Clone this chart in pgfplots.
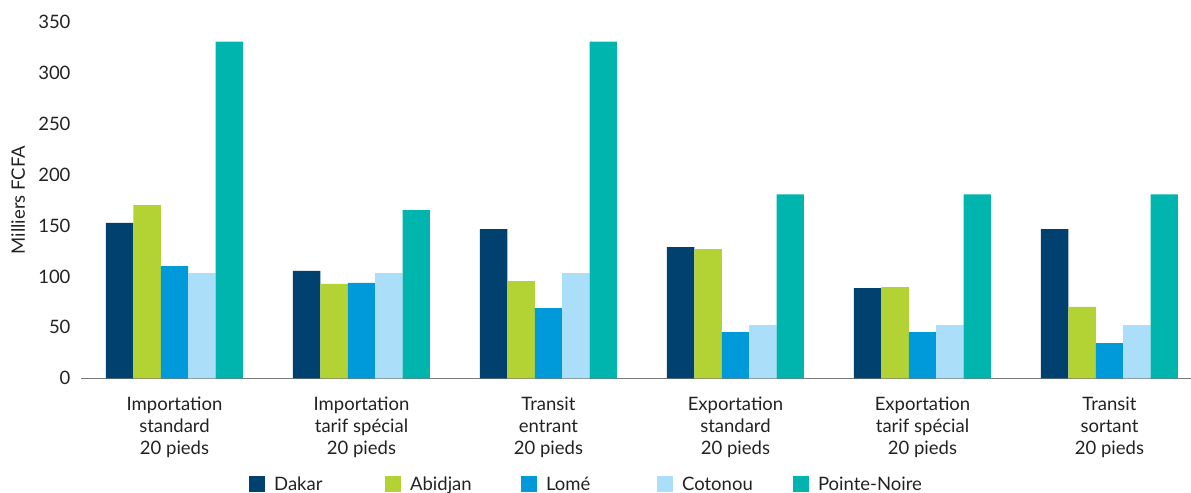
\documentclass[border=0pt]{standalone}
\usepackage{pgfplots}
\pgfplotsset{compat=1.18}
\usepackage{fontspec}
\setmainfont{Lato}
\definecolor{cDakar}{HTML}{00416F}
\definecolor{cAbidjan}{HTML}{B3D335}
\definecolor{cLome}{HTML}{009ADB}
\definecolor{cCotonou}{HTML}{ABDFF9}
\definecolor{cPN}{HTML}{00B5AE}
\definecolor{txt}{HTML}{222222}
\definecolor{axisgray}{HTML}{7A7A7A}
\pgfplotsset{sqlegend/.style={legend image code/.code={\fill[##1] (0bp,-8bp) rectangle (16bp,8bp);}}}
\begin{document}
\begin{tikzpicture}
\begin{axis}[
  name=ax,
  at={(0,0)}, anchor=south west,
  scale only axis,
  width=1122bp, height=356.6bp,
  ybar=0pt, bar width=27.4bp,
  xmin=-0.5, xmax=5.5,
  ymin=0, ymax=350,
  ytick={0,50,...,350},
  xtick={0,1,2,3,4,5},
  xticklabels={{Importation\\standard\\20 pieds},{Importation\\tarif spécial\\20 pieds},{Transit\\entrant\\20 pieds},{Exportation\\standard\\20 pieds},{Exportation\\tarif spécial\\20 pieds},{Transit\\sortant\\20 pieds}},
  axis lines*=left,
  y axis line style={draw=none},
  x axis line style={draw=axisgray, line width=1.6bp},
  tick style={draw=none},
  /pgf/number format/assume math mode=true,
  ticklabel style={font=\fontsize{18.5bp}{22bp}\selectfont, text=txt},
  yticklabel style={xshift=-7bp},
  xticklabel style={align=center, yshift=-11bp},
  ylabel={Milliers FCFA},
  every axis y label/.style={at={(axis description cs:-0.0561,0.5)}, rotate=90, anchor=center, font=\fontsize{18.5bp}{22bp}\selectfont, text=txt},
  legend columns=5,
  legend style={at={(axis description cs:0.1497,-0.297)}, anchor=west, draw=none, fill=none, inner sep=0pt,
    font=\fontsize{18.5bp}{22bp}\selectfont, text=txt,
    /tikz/every even column/.append style={column sep=0pt}},
  legend cell align=left,
]
\addplot[fill=cDakar, draw=none, sqlegend] coordinates {(0,152.5) (1,105.4) (2,146.4) (3,128.7) (4,88.5) (5,146.4)};
\addplot[fill=cAbidjan, draw=none, sqlegend] coordinates {(0,170) (1,92.6) (2,95.4) (3,126.8) (4,89.5) (5,70)};
\addplot[fill=cLome, draw=none, sqlegend] coordinates {(0,110) (1,93.6) (2,69) (3,45.4) (4,45.4) (5,34.6)};
\addplot[fill=cCotonou, draw=none, sqlegend] coordinates {(0,103.3) (1,103.3) (2,103.3) (3,52.3) (4,52.3) (5,52.3)};
\addplot[fill=cPN, draw=none, sqlegend] coordinates {(0,330.5) (1,165) (2,330.5) (3,180.5) (4,180.5) (5,180.5)};
\legend{\makebox[116bp][l]{\hspace{7bp}Dakar},\makebox[116bp][l]{\hspace{7bp}Abidjan},\makebox[116bp][l]{\hspace{7bp}Lomé},\makebox[116bp][l]{\hspace{7bp}Cotonou},\hspace{7bp}Pointe-Noire}
\end{axis}
\pgfresetboundingbox
\path[use as bounding box] ([xshift=-81bp,yshift=-114.7bp]ax.south west) rectangle ([xshift=1110bp,yshift=378.3bp]ax.south west);
\end{tikzpicture}
\end{document}
